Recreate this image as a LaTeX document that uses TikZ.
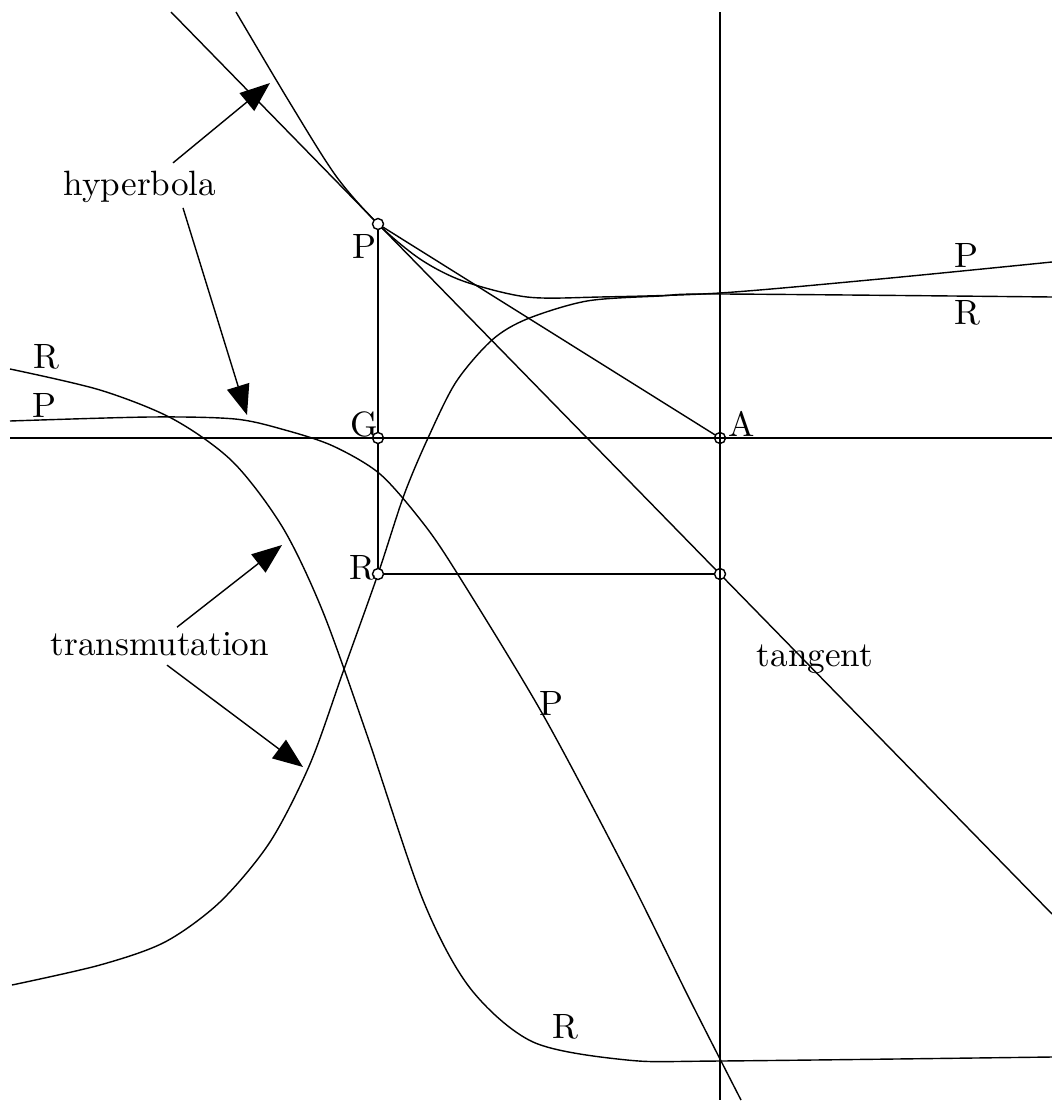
\documentclass[tikz,border=0pt]{standalone}
\usetikzlibrary{arrows.meta}
\tikzset{
  pnt/.style={circle,draw,fill=white,inner sep=0pt,minimum size=1.1mm},
  lbl/.style={inner sep=0pt},
  arr/.style={-{Triangle[length=3mm,width=2.3mm]}},
}
\begin{document}
\begin{tikzpicture}[x=0.01cm,y=-0.01cm,line width=0.4pt]
  \useasboundingbox (0,0) rectangle (1052,1103);
  % points of the figure
  \coordinate (P) at (378,224);
  \coordinate (G) at (378,438);
  \coordinate (R) at (378,574);
  \coordinate (A) at (720,438);
  \coordinate (T) at (720,574);
  % ends of axes and tangent
  \coordinate (xl) at (10,438);
  \coordinate (xr) at (1052,438);
  \coordinate (yt) at (720,12);
  \coordinate (yb) at (720,1100);
  \coordinate (tt) at (171,12);
  \coordinate (tb) at (1052,914);
  \draw (P) -- (G) -- (R) -- (T);
  \draw (P) -- (A);
  \draw (tt) -- (tb);
  % hyperbola
  \draw plot[smooth] coordinates {(236,12) (290,103) (336,176) (378,224)
    (420,259) (463,281) (527,297) (600,297) (720,293) (880,279) (1052,262)};
  \draw plot[smooth] coordinates {(10,421) (150,417) (235,419) (285,430)
    (333,446) (380,474) (423,523) (457,573) (542,713) (627,873) (690,1000)
    (741,1100)};
  % transmutation
  \draw plot[smooth] coordinates {(12,985) (100,965) (165,942) (220,902)
    (270,842) (310,764) (343,672) (378,574) (404,495) (428,438) (456,382)
    (492,340) (527,319) (587,301) (660,296) (720,294) (1052,297)};
  \draw plot[smooth] coordinates {(10,369) (100,390) (173,419) (233,462)
    (283,528) (323,612) (367,735) (423,900) (470,988) (533,1042) (627,1060)
    (720,1061) (1052,1057)};
  % points
  \node[pnt] (nP) at (P) {};
  \node[pnt] (nG) at (G) {};
  \node[pnt] (nR) at (R) {};
  \node[pnt] (nA) at (A) {};
  \node[pnt] (nT) at (T) {};
  \draw (xl) -- (xr);
  \draw (yt) -- (yb);
  % labels
  \node[lbl] (lP) at (364,246) {P};
  \node[lbl] (lG) at (364,424) {G};
  \node[lbl] (lR) at (362,568) {R};
  \node[lbl] (lA) at (742,424) {A};
  \node[lbl] (cP1) at (966,255) {P};
  \node[lbl] (cR1) at (967,313) {R};
  \node[lbl] (cR2) at (46,357) {R};
  \node[lbl] (cP2) at (44,405) {P};
  \node[lbl] (cP3) at (551,703) {P};
  \node[lbl] (cR3) at (565,1027) {R};
  \node[lbl,anchor=base] (hyp) at (140,195) {hyperbola};
  \node[lbl,anchor=base] (trans) at (160,655) {transmutation};
  \node[lbl,anchor=base] (tang) at (815,666) {tangent};
  % arrows
  \coordinate (h1) at (270,83);
  \coordinate (h2) at (247,415);
  \coordinate (t1) at (282,545);
  \coordinate (t2) at (303,767);
  \draw[arr] ([shift={(33,-7)}]hyp.north) -- (h1);
  \draw[arr] ([shift={(43,5)}]hyp.south) -- (h2);
  \draw[arr] ([shift={(17,-4)}]trans.north) -- (t1);
  \draw[arr] ([shift={(7,9)}]trans.south) -- (t2);
\end{tikzpicture}
\end{document}
